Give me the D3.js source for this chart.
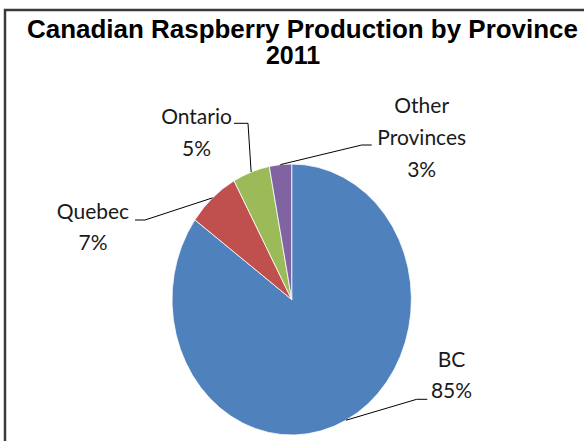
<!DOCTYPE html>
<html>
<head>
<meta charset="utf-8">
<script src="https://cdn.jsdelivr.net/npm/d3@7"></script>
<style>
  html, body { margin: 0; padding: 0; background: #fff; }
  svg { display: block; }
</style>
</head>
<body>
<svg id="chart" width="584" height="441"></svg>
<script>
// Raspberry production share by province, 2011
const provinces = ["BC", "Quebec", "Ontario", "Other Provinces"];
const shares = [85, 7, 5, 3];
const colors = ["#4F81BD", "#C0504D", "#9BBB59", "#8064A2"];

// label text lines and anchor (label block centre, leader elbow)
const labelLines = [["BC", "85%"], ["Quebec", "7%"], ["Ontario", "5%"], ["Other", "Provinces", "3%"]];

const svg = d3.select("#chart");
const W = 584, H = 441;

// frame (only the left and top edges fall inside the view)
svg.append("rect")
  .attr("x", 5).attr("y", 10)
  .attr("width", W + 20).attr("height", H + 20)
  .attr("fill", "#fff")
  .attr("stroke", "#3a3a3a")
  .attr("stroke-width", 2.5);

// title
const title = svg.append("text")
  .attr("font-family", "Liberation Sans, Arial, sans-serif")
  .attr("font-weight", "bold")
  .attr("font-size", 25)
  .attr("fill", "#000")
  .attr("text-anchor", "middle");
title.append("tspan").attr("x", 302.5).attr("y", 38)
  .attr("textLength", 551).attr("lengthAdjust", "spacingAndGlyphs")
  .text("Canadian Raspberry Production by Province");
title.append("tspan").attr("x", 293).attr("y", 63.5).text("2011");

// pie: drawn as a circle, stretched vertically
const cx = 291.7, cy = 299.5, r = 119.7, sy = 135.5 / 119.7;

const pie = d3.pie().sort(null).value(d => d)(shares);
const arc = d3.arc().innerRadius(0).outerRadius(r);

const g = svg.append("g")
  .attr("transform", `translate(${cx},${cy}) scale(1,${sy})`);

g.selectAll("path")
  .data(pie)
  .join("path")
  .attr("d", arc)
  .attr("fill", (d, i) => colors[i])
  .attr("stroke", "#fff")
  .attr("stroke-width", 0.8)
  .attr("vector-effect", "non-scaling-stroke");

// point on the pie rim at the middle of a slice, in page coordinates
function rimPoint(d) {
  const a = (d.startAngle + d.endAngle) / 2;
  return [cx + r * Math.sin(a), cy - r * Math.cos(a) * sy];
}

// label layout: text centre x, first baseline y, line step, elbow point
const labelPos = [
  { x: 451.5, y: 366.7, step: 31.6, elbow: [427.3, 399.3], tail: 416.7 },
  { x: 93, y: 219, step: 31, elbow: [135, 220], tail: 145 },
  { x: 196.5, y: 124.3, step: 31.4, elbow: [234, 123.3], tail: 248 },
  { x: 421.7, y: 112.7, step: 32.3, elbow: [371.7, 145], tail: 361.7 }
];

// leader lines
pie.forEach((d, i) => {
  const p = labelPos[i];
  const rim = rimPoint(d);
  svg.append("path")
    .attr("d", d3.line()([[p.elbow[0], p.elbow[1]], [p.tail, p.elbow[1]], rim]))
    .attr("fill", "none")
    .attr("stroke", "#000")
    .attr("stroke-width", 1);
});

// labels
labelLines.forEach((lines, i) => {
  const p = labelPos[i];
  const t = svg.append("text")
    .attr("font-family", "Lato, 'Open Sans', sans-serif")
    .attr("font-size", 21)
    .attr("fill", "#1a1a1a")
    .attr("text-anchor", "middle");
  lines.forEach((s, k) => {
    t.append("tspan").attr("x", p.x).attr("y", p.y + k * p.step).text(s);
  });
});
</script>
</body>
</html>
